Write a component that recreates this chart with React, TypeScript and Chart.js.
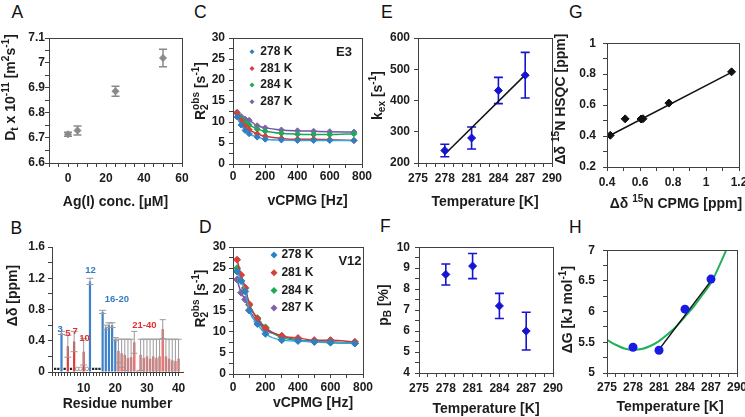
import React, { useEffect, useRef } from 'react';
import { Chart, registerables } from 'chart.js';

Chart.register(...registerables);

const FONT = '"Liberation Sans", Arial, Helvetica, sans-serif';
const AXIS_COLOR = '#404040';
const TEXT_COLOR = '#1c1c1c';
const PADL = 62;
const PADT = 12;
const PADR = 22;
const PADB = 54;

// ===== Panel A: diffusion vs Ag(I) =====
const agConc = [0, 5, 25, 50];
const diffusion = [6.715, 6.73, 6.887, 7.02];
const diffusionErr = [0.008, 0.018, 0.02, 0.035];

// ===== Panel B: chemical shift perturbation =====
const blueResidues = [3, 12, 16, 17, 18, 19, 20];
const blueShifts = [0.5, 1.16, 0.77, 0.57, 0.6, 0.6, 0.42];
const blueErr = [0.02, 0.04, 0.02, 0.03, 0.03, 0.03, 0.02];
const redResidues = [5, 7, 10];
const redShifts = [0.33, 0.39, 0.26];
const redErr = [0.14, 0.13, 0.17];
const tailResidues = [21, 22, 23, 24, 25, 26, 27, 28, 29, 30, 31, 32, 33, 34, 35, 36, 37, 38, 39, 40];
const tailShifts = [0.27, 0.24, 0.22, 0.18, 0.19, 0.38, 0.02, 0.22, 0.18, 0.2, 0.17, 0.2, 0.18, 0.2, 0.55, 0.2, 0.17, 0.15, 0.14, 0.17];
const tailErr = [0.15, 0.18, 0.2, 0.24, 0.23, 0.14, 0, 0.2, 0.24, 0.22, 0.25, 0.22, 0.24, 0.22, 0.12, 0.22, 0.25, 0.27, 0.28, 0.25];
const unassignedResidues = [1, 2, 4, 6, 13, 14, 15];
const unassignedShifts = [0.04, 0.04, 0.04, 0.04, 0.04, 0.04, 0.04];
const weakResidues = [8, 9, 11];
const weakShifts = [0.04, 0.04, 0.04];
const groupLabels = ['3', '5', '7', '10', '12', '16-20', '21-40'];
const groupLabelResidue = [2.6, 5.0, 7.3, 10.3, 12.2, 20.5, 29.2];
const groupLabelShift = [0.54, 0.5, 0.52, 0.43, 1.3, 0.93, 0.6];
const groupLabelIsBlue = [true, false, false, false, true, true, false];

// ===== Panels C, D: CPMG dispersion =====
const cpmgFreq = [25, 50, 75, 100, 150, 200, 300, 400, 500, 600, 750];
const tempLabels = ['278 K', '281 K', '284 K', '287 K'];
const e3_278 = [11.2, 9.3, 8.0, 7.2, 6.4, 5.9, 5.7, 5.6, 5.6, 5.6, 5.6];
const e3_281 = [12.2, 10.3, 9.0, 8.2, 7.2, 6.6, 6.1, 5.9, 5.9, 5.8, 5.6];
const e3_284 = [12.0, 10.8, 9.9, 9.3, 8.3, 7.8, 7.3, 7.1, 7.0, 7.0, 7.2];
const e3_287 = [12.3, 11.3, 10.7, 10.4, 9.1, 8.6, 8.1, 7.9, 7.8, 7.7, 7.6];
const v12_278 = [24.2, 22.0, 19.5, 15.0, 11.8, 9.5, 8.0, 7.8, 7.6, 7.5, 7.2];
const v12_281 = [27.0, 23.4, 20.4, 16.5, 13.0, 10.8, 9.0, 8.5, 8.0, 8.0, 7.6];
const v12_284 = [25.0, 22.0, 20.2, 16.3, 13.2, 11.0, 8.6, 8.0, 7.6, 7.4, 7.3];
const v12_287 = [22.3, 19.2, 17.6, 15.1, 12.4, 10.4, 9.0, 8.0, 7.8, 7.6, 7.2];

// ===== Panels E, F, H: temperature series =====
const temps = [278, 281, 284, 287];
const kex = [240, 280, 432, 481];
const kexErr = [20, 35, 42, 73];
const kexFitT = [278, 287];
const kexFit = [228, 482];
const pB = [8.7, 9.1, 7.2, 6.0];
const pBErr = [0.5, 0.6, 0.6, 0.9];
const dG = [5.42, 5.37, 6.04, 6.53];
const dGLineT = [281, 287];
const dGLine = [5.38, 6.5];
const dGCurveT = [275, 276, 277, 278, 279, 280, 281, 282, 283, 284, 285, 286, 287, 288, 289];
const dGCurve = [5.54, 5.46, 5.4, 5.38, 5.39, 5.44, 5.52, 5.63, 5.76, 5.92, 6.08, 6.27, 6.47, 6.76, 7.08];

// ===== Panel G =====
const cpmgShift = [0.42, 0.51, 0.606, 0.618, 0.775, 1.155];
const hsqcShift = [0.405, 0.511, 0.51, 0.512, 0.613, 0.815];
const shiftFitX = [0.42, 1.16];
const shiftFitY = [0.405, 0.815];

type Geo = { L: number; T: number; R: number; B: number };
const geoA: Geo = { L: 49, T: 38, R: 182, B: 163 };
const geoB: Geo = { L: 52, T: 247, R: 183, B: 372 };
const geoC: Geo = { L: 233, T: 38, R: 362, B: 164 };
const geoD: Geo = { L: 233, T: 247, R: 363, B: 374 };
const geoE: Geo = { L: 418, T: 38, R: 552, B: 163 };
const geoF: Geo = { L: 419, T: 247, R: 553, B: 373 };
const geoG: Geo = { L: 607, T: 41, R: 739, B: 167 };
const geoH: Geo = { L: 607, T: 247, R: 737, B: 373 };

type Seg = string | { sub?: string; sup?: string };

function drawRich(ctx: CanvasRenderingContext2D, segs: Seg[], cx: number, cy: number, size: number, rotate: boolean) {
  const big = `bold ${size}px ${FONT}`;
  const small = `bold ${Math.round(size * 0.72 * 10) / 10}px ${FONT}`;
  const widths = segs.map((s) => {
    if (typeof s === 'string') {
      ctx.font = big;
      return ctx.measureText(s).width;
    }
    ctx.font = small;
    return Math.max(s.sub ? ctx.measureText(s.sub).width : 0, s.sup ? ctx.measureText(s.sup).width : 0);
  });
  const total = widths.reduce((a, b) => a + b, 0);
  ctx.save();
  ctx.translate(cx, cy);
  if (rotate) ctx.rotate(-Math.PI / 2);
  ctx.fillStyle = TEXT_COLOR;
  ctx.textAlign = 'left';
  ctx.textBaseline = 'alphabetic';
  let x = -total / 2;
  const base = size * 0.36;
  segs.forEach((s, i) => {
    if (typeof s === 'string') {
      ctx.font = big;
      ctx.fillText(s, x, base);
    } else {
      ctx.font = small;
      if (s.sup) ctx.fillText(s.sup, x, base - size * 0.42);
      if (s.sub) ctx.fillText(s.sub, x, base + size * 0.22);
    }
    x += widths[i];
  });
  ctx.restore();
}

function drawErrors(chart: any, front: boolean) {
  const ctx = chart.ctx as CanvasRenderingContext2D;
  const ys = chart.scales.y;
  chart.data.datasets.forEach((ds: any, di: number) => {
    const eb = ds.errorBars;
    if (!eb || !!eb.front !== front) return;
    const meta = chart.getDatasetMeta(di);
    ctx.save();
    ctx.strokeStyle = eb.color;
    ctx.lineWidth = eb.width;
    meta.data.forEach((el: any, i: number) => {
      const e = eb.values[i];
      if (!e) return;
      const v = ds.data[i].y;
      const x = el.x;
      const hi = ys.getPixelForValue(v + e);
      const loV = v - e;
      const lo = ys.getPixelForValue(Math.max(loV, ys.min));
      ctx.beginPath();
      ctx.moveTo(x, hi);
      ctx.lineTo(x, lo);
      ctx.moveTo(x - eb.cap / 2, hi);
      ctx.lineTo(x + eb.cap / 2, hi);
      if (loV > ys.min) {
        ctx.moveTo(x - eb.cap / 2, lo);
        ctx.lineTo(x + eb.cap / 2, lo);
      }
      ctx.stroke();
    });
    ctx.restore();
  });
}

function diamond(ctx: CanvasRenderingContext2D, x: number, y: number, r: number, color: string) {
  ctx.beginPath();
  ctx.moveTo(x, y - r);
  ctx.lineTo(x + r, y);
  ctx.lineTo(x, y + r);
  ctx.lineTo(x - r, y);
  ctx.closePath();
  ctx.fillStyle = color;
  ctx.fill();
}

type Deco = {
  box: boolean;
  titleSize: number;
  yTitle: Seg[];
  yDx: number;
  yDy: number;
  xTitle: Seg[];
  xDx: number;
  xDy: number;
  legend?: { labels: string[]; colors: string[]; dx: number; dy: number; gap: number; textDx: number; r: number };
  note?: { text: string; dx: number; dy: number };
  labels?: { texts: string[]; xs: number[]; ys: number[]; colors: string[]; size: number };
};

function makeDeco(o: Deco) {
  return {
    id: 'deco',
    beforeDatasetsDraw(chart: any) {
      drawErrors(chart, false);
    },
    afterDatasetsDraw(chart: any) {
      drawErrors(chart, true);
    },
    afterDraw(chart: any) {
      const ctx = chart.ctx as CanvasRenderingContext2D;
      const a = chart.chartArea;
      ctx.save();
      if (o.box) {
        ctx.strokeStyle = AXIS_COLOR;
        ctx.lineWidth = 1;
        ctx.strokeRect(Math.round(a.left) + 0.5, Math.round(a.top) + 0.5, Math.round(a.right - a.left), Math.round(a.bottom - a.top));
      }
      drawRich(ctx, o.yTitle, a.left - o.yDx, (a.top + a.bottom) / 2 + o.yDy, o.titleSize, true);
      drawRich(ctx, o.xTitle, (a.left + a.right) / 2 + o.xDx, a.bottom + o.xDy, o.titleSize, false);
      if (o.legend) {
        const lg = o.legend;
        lg.labels.forEach((t, i) => {
          const y = a.top + lg.dy + i * lg.gap;
          diamond(ctx, a.left + lg.dx, y, lg.r, lg.colors[i]);
          ctx.font = `bold 12px ${FONT}`;
          ctx.fillStyle = TEXT_COLOR;
          ctx.textAlign = 'left';
          ctx.textBaseline = 'middle';
          ctx.fillText(t, a.left + lg.dx + lg.textDx, y);
        });
      }
      if (o.note) {
        ctx.font = `bold 13px ${FONT}`;
        ctx.fillStyle = TEXT_COLOR;
        ctx.textAlign = 'center';
        ctx.textBaseline = 'middle';
        ctx.fillText(o.note.text, a.left + o.note.dx, a.top + o.note.dy);
      }
      if (o.labels) {
        const lb = o.labels;
        ctx.font = `bold ${lb.size}px ${FONT}`;
        ctx.textAlign = 'center';
        ctx.textBaseline = 'middle';
        lb.texts.forEach((t, i) => {
          ctx.fillStyle = lb.colors[i];
          ctx.fillText(t, chart.scales.x.getPixelForValue(lb.xs[i]), chart.scales.y.getPixelForValue(lb.ys[i]));
        });
      }
      ctx.restore();
    },
  };
}

type AxisOpts = { min: number; max: number; step: number; major: number; base?: number; horizontal: boolean; pad: number; size: number; skipZero?: boolean };

function axis(p: AxisOpts) {
  const isMult = (v: number, m: number) => Math.abs(v / m - Math.round(v / m)) < 1e-6;
  const base = p.base ?? 0;
  return {
    type: 'linear',
    min: p.min,
    max: p.max,
    offset: false,
    afterBuildTicks: (s: any) => {
      s.ticks = s.ticks.filter((t: any) => isMult(t.value - base, p.step));
    },
    afterFit: (s: any) => {
      if (p.horizontal) s.height = PADB;
      else s.width = PADL;
    },
    ticks: {
      stepSize: p.step,
      autoSkip: false,
      maxRotation: 0,
      minRotation: 0,
      padding: p.pad,
      color: TEXT_COLOR,
      font: { family: FONT, size: p.size, weight: 'bold' },
      callback: (v: number) => {
        if (!isMult(v - base, p.major)) return '';
        if (p.skipZero && Math.abs(v) < 1e-9) return '';
        return String(Math.round(v * 1000) / 1000);
      },
    },
    grid: { display: true, offset: false, drawOnChartArea: false, drawTicks: true, tickLength: 4, color: AXIS_COLOR, lineWidth: 1 },
    border: { display: true, color: AXIS_COLOR, width: 1 },
    title: { display: false },
  };
}

function baseOptions(x: any, y: any) {
  return {
    animation: false,
    responsive: false,
    maintainAspectRatio: false,
    events: [],
    layout: { padding: { left: 0, top: PADT, right: PADR, bottom: 0 } },
    plugins: { legend: { display: false }, tooltip: { enabled: false }, title: { display: false } },
    scales: { x, y },
  };
}

const pts = (xs: number[], ys: number[]) => xs.map((x, i) => ({ x, y: ys[i] }));

const BLUE_PT = '#1414d2';
const tempColors = ['#2f7fc1', '#d6403a', '#1faa59', '#7f63a9'];
const tempLineColors = ['#35a8e0', '#c2383f', '#18a45c', '#6f55a5'];

function configA() {
  return {
    type: 'scatter',
    data: {
      datasets: [
        {
          data: pts(agConc, diffusion),
          pointStyle: 'rectRot',
          pointRadius: 3.5,
          backgroundColor: '#8a8a8a',
          borderColor: '#8a8a8a',
          borderWidth: 1,
          errorBars: { values: diffusionErr, color: '#8a8a8a', width: 1.5, cap: 8, front: false },
        },
      ],
    },
    options: baseOptions(
      axis({ min: -10, max: 60, step: 5, major: 20, horizontal: true, pad: 4, size: 12 }),
      axis({ min: 6.6, max: 7.1, step: 0.05, major: 0.1, horizontal: false, pad: 0, size: 12 })
    ),
    plugins: [
      makeDeco({
        box: true,
        titleSize: 14,
        yTitle: ['D', { sub: 't' }, ' x 10', { sup: '-11' }, ' [m', { sup: '2' }, 's', { sup: '-1' }, ']'],
        yDx: 39,
        yDy: -13,
        xTitle: ['Ag(I) conc. [µM]'],
        xDx: 0,
        xDy: 38,
      }),
    ],
  };
}

function configB() {
  const barCommon = { grouped: false, categoryPercentage: 1, borderWidth: 0 };
  return {
    type: 'bar',
    data: {
      datasets: [
        {
          ...barCommon,
          data: pts(blueResidues, blueShifts),
          backgroundColor: '#3d82c8',
          barPercentage: 0.7,
          errorBars: { values: blueErr, color: '#9a9a9a', width: 1, cap: 7, front: true },
        },
        {
          ...barCommon,
          data: pts(redResidues, redShifts),
          backgroundColor: '#e03c3c',
          barPercentage: 0.7,
          errorBars: { values: redErr, color: '#9a9a9a', width: 1, cap: 7, front: true },
        },
        {
          ...barCommon,
          data: pts(tailResidues, tailShifts),
          backgroundColor: '#e57777',
          barPercentage: 0.8,
          errorBars: { values: tailErr, color: '#9a9a9a', width: 1, cap: 6, front: true },
        },
        {
          type: 'scatter',
          data: pts(unassignedResidues, unassignedShifts),
          pointStyle: 'rect',
          pointRadius: 1.6,
          backgroundColor: '#222',
          borderColor: '#222',
          borderWidth: 0,
        },
        {
          type: 'scatter',
          data: pts(weakResidues, weakShifts),
          pointStyle: 'circle',
          pointRadius: 1.8,
          backgroundColor: '#fff',
          borderColor: '#999',
          borderWidth: 1,
        },
      ],
    },
    options: baseOptions(
      axis({ min: 0, max: 41.4, step: 1, major: 10, horizontal: true, pad: 5, size: 12, skipZero: true }),
      axis({ min: 0, max: 1.6, step: 0.2, major: 0.4, horizontal: false, pad: 3, size: 12 })
    ),
    plugins: [
      makeDeco({
        box: false,
        titleSize: 14,
        yTitle: ['Δδ [ppm]'],
        yDx: 40,
        yDy: -14,
        xTitle: ['Residue number'],
        xDx: 0,
        xDy: 31,
        labels: {
          texts: groupLabels,
          xs: groupLabelResidue,
          ys: groupLabelShift,
          colors: groupLabelIsBlue.map((b) => (b ? '#2f7cc4' : '#e0302e')),
          size: 9.5,
        },
      }),
    ],
  };
}

function cpmgConfig(series: number[][], r: number, note: string, legend: { dx: number; dy: number; gap: number; textDx: number; r: number }, t: { yPad: number; xPad: number; yDx: number; yDy: number; xDx: number; xDy: number }) {
  return {
    type: 'scatter',
    data: {
      datasets: series.map((vals, k) => ({
        label: tempLabels[k],
        data: pts(cpmgFreq, vals),
        showLine: true,
        cubicInterpolationMode: 'monotone',
        borderColor: tempLineColors[k],
        borderWidth: 1.5,
        pointStyle: 'rectRot',
        pointRadius: r,
        pointBackgroundColor: tempColors[k],
        pointBorderColor: tempColors[k],
        pointBorderWidth: 1,
      })),
    },
    options: baseOptions(
      axis({ min: 0, max: 800, step: 100, major: 200, horizontal: true, pad: t.xPad, size: 12 }),
      axis({ min: 0, max: 30, step: 2.5, major: 5, horizontal: false, pad: t.yPad, size: 12 })
    ),
    plugins: [
      makeDeco({
        box: true,
        titleSize: 14,
        yTitle: ['R', { sub: '2', sup: 'obs' }, ' [s', { sup: '-1' }, ']'],
        yDx: t.yDx,
        yDy: t.yDy,
        xTitle: ['vCPMG [Hz]'],
        xDx: t.xDx,
        xDy: t.xDy,
        legend: { labels: tempLabels, colors: tempColors, ...legend },
        note: { text: note, dx: note === 'E3' ? 111 : 117, dy: 14.5 },
      }),
    ],
  };
}

function configC() {
  return cpmgConfig([e3_278, e3_281, e3_284, e3_287], 3, 'E3', { dx: 19, dy: 13.7, gap: 16.7, textDx: 8.3, r: 2.5 }, { yPad: 4, xPad: 1.5, yDx: 33, yDy: -10, xDx: 10, xDy: 36 });
}

function configD() {
  return cpmgConfig([v12_278, v12_281, v12_284, v12_287], 3.5, 'V12', { dx: 41, dy: 8, gap: 17.7, textDx: 7.4, r: 3.5 }, { yPad: 3, xPad: 2, yDx: 33, yDy: -12, xDx: 15, xDy: 28 });
}

function configE() {
  return {
    type: 'scatter',
    data: {
      datasets: [
        {
          data: pts(temps, kex),
          pointStyle: 'rectRot',
          pointRadius: 4,
          backgroundColor: BLUE_PT,
          borderColor: BLUE_PT,
          borderWidth: 1,
          errorBars: { values: kexErr, color: BLUE_PT, width: 1.6, cap: 9, front: false },
        },
        { data: pts(kexFitT, kexFit), showLine: true, pointRadius: 0, borderColor: '#111', borderWidth: 1.5 },
      ],
    },
    options: baseOptions(
      axis({ min: 275, max: 290, step: 1, major: 3, base: 275, horizontal: true, pad: 4, size: 12 }),
      axis({ min: 200, max: 600, step: 100, major: 100, horizontal: false, pad: 4, size: 12 })
    ),
    plugins: [
      makeDeco({
        box: true,
        titleSize: 14,
        yTitle: ['k', { sub: 'ex' }, ' [s', { sup: '-1' }, ']'],
        yDx: 41,
        yDy: -5,
        xTitle: ['Temperature [K]'],
        xDx: 0,
        xDy: 38,
      }),
    ],
  };
}

function configF() {
  return {
    type: 'scatter',
    data: {
      datasets: [
        {
          data: pts(temps, pB),
          pointStyle: 'rectRot',
          pointRadius: 4,
          backgroundColor: BLUE_PT,
          borderColor: BLUE_PT,
          borderWidth: 1,
          errorBars: { values: pBErr, color: BLUE_PT, width: 1.6, cap: 9, front: false },
        },
      ],
    },
    options: baseOptions(
      axis({ min: 275, max: 290, step: 1, major: 3, base: 275, horizontal: true, pad: 4, size: 12 }),
      axis({ min: 4, max: 10, step: 0.5, major: 1, horizontal: false, pad: 5, size: 12 })
    ),
    plugins: [
      makeDeco({
        box: true,
        titleSize: 14,
        yTitle: ['p', { sub: 'B' }, ' [%]'],
        yDx: 36,
        yDy: -5,
        xTitle: ['Temperature [K]'],
        xDx: 0,
        xDy: 35,
      }),
    ],
  };
}

function configG() {
  return {
    type: 'scatter',
    data: {
      datasets: [
        {
          data: pts(cpmgShift, hsqcShift),
          pointStyle: 'rectRot',
          pointRadius: 4,
          backgroundColor: '#111',
          borderColor: '#111',
          borderWidth: 1,
        },
        { data: pts(shiftFitX, shiftFitY), showLine: true, pointRadius: 0, borderColor: '#111', borderWidth: 1.5 },
      ],
    },
    options: baseOptions(
      axis({ min: 0.4, max: 1.2, step: 0.1, major: 0.2, horizontal: true, pad: 4, size: 12 }),
      axis({ min: 0.2, max: 1, step: 0.1, major: 0.2, horizontal: false, pad: 7, size: 12 })
    ),
    plugins: [
      makeDeco({
        box: true,
        titleSize: 14,
        yTitle: ['Δδ ', { sup: '15' }, 'N HSQC [ppm]'],
        yDx: 47,
        yDy: -6,
        xTitle: ['Δδ ', { sup: '15' }, 'N CPMG [ppm]'],
        xDx: 3,
        xDy: 36,
      }),
    ],
  };
}

function configH() {
  return {
    type: 'scatter',
    data: {
      datasets: [
        {
          data: pts(temps, dG),
          pointStyle: 'circle',
          pointRadius: 4.5,
          backgroundColor: '#1a1ae6',
          borderColor: '#1a1ae6',
          borderWidth: 0,
        },
        { data: pts(dGLineT, dGLine), showLine: true, pointRadius: 0, borderColor: '#111', borderWidth: 1.5 },
        {
          data: pts(dGCurveT, dGCurve),
          showLine: true,
          cubicInterpolationMode: 'monotone',
          pointRadius: 0,
          borderColor: '#22b05a',
          borderWidth: 2,
        },
      ],
    },
    options: baseOptions(
      axis({ min: 275, max: 290, step: 1, major: 3, base: 275, horizontal: true, pad: 3, size: 12 }),
      axis({ min: 5, max: 7, step: 0.25, major: 0.5, horizontal: false, pad: 8, size: 12 })
    ),
    plugins: [
      makeDeco({
        box: true,
        titleSize: 14,
        yTitle: ['ΔG [kJ mol', { sup: '-1' }, ']'],
        yDx: 40,
        yDy: -2,
        xTitle: ['Temperature [K]'],
        xDx: -2,
        xDy: 33,
      }),
    ],
  };
}

function ChartPanel({ geo, make }: { geo: Geo; make: () => any }) {
  const ref = useRef<HTMLCanvasElement | null>(null);
  useEffect(() => {
    if (!ref.current) return;
    const chart = new Chart(ref.current, make());
    return () => chart.destroy();
  }, []);
  const w = geo.R - geo.L + PADL + PADR;
  const h = geo.B - geo.T + PADT + PADB;
  return (
    <canvas
      ref={ref}
      width={w}
      height={h}
      style={{ position: 'absolute', left: geo.L - PADL, top: geo.T - PADT, width: w, height: h }}
    />
  );
}

const letters: { t: string; x: number; y: number }[] = [
  { t: 'A', x: 11.5, y: 4 },
  { t: 'B', x: 10.5, y: 219.5 },
  { t: 'C', x: 194, y: 4 },
  { t: 'D', x: 199, y: 218.5 },
  { t: 'E', x: 381, y: 4 },
  { t: 'F', x: 380, y: 218 },
  { t: 'G', x: 569, y: 4 },
  { t: 'H', x: 569, y: 218.5 },
];

export default function App() {
  return (
    <div style={{ position: 'absolute', left: 0, top: 0, width: 745, height: 417, overflow: 'hidden', background: '#fff' }}>
      {letters.map((l) => (
        <div
          key={l.t}
          style={{ position: 'absolute', left: l.x, top: l.y, fontFamily: FONT, fontSize: 17.5, lineHeight: 1, color: '#111' }}
        >
          {l.t}
        </div>
      ))}
      <ChartPanel geo={geoA} make={configA} />
      <ChartPanel geo={geoB} make={configB} />
      <ChartPanel geo={geoC} make={configC} />
      <ChartPanel geo={geoD} make={configD} />
      <ChartPanel geo={geoE} make={configE} />
      <ChartPanel geo={geoF} make={configF} />
      <ChartPanel geo={geoG} make={configG} />
      <ChartPanel geo={geoH} make={configH} />
    </div>
  );
}
